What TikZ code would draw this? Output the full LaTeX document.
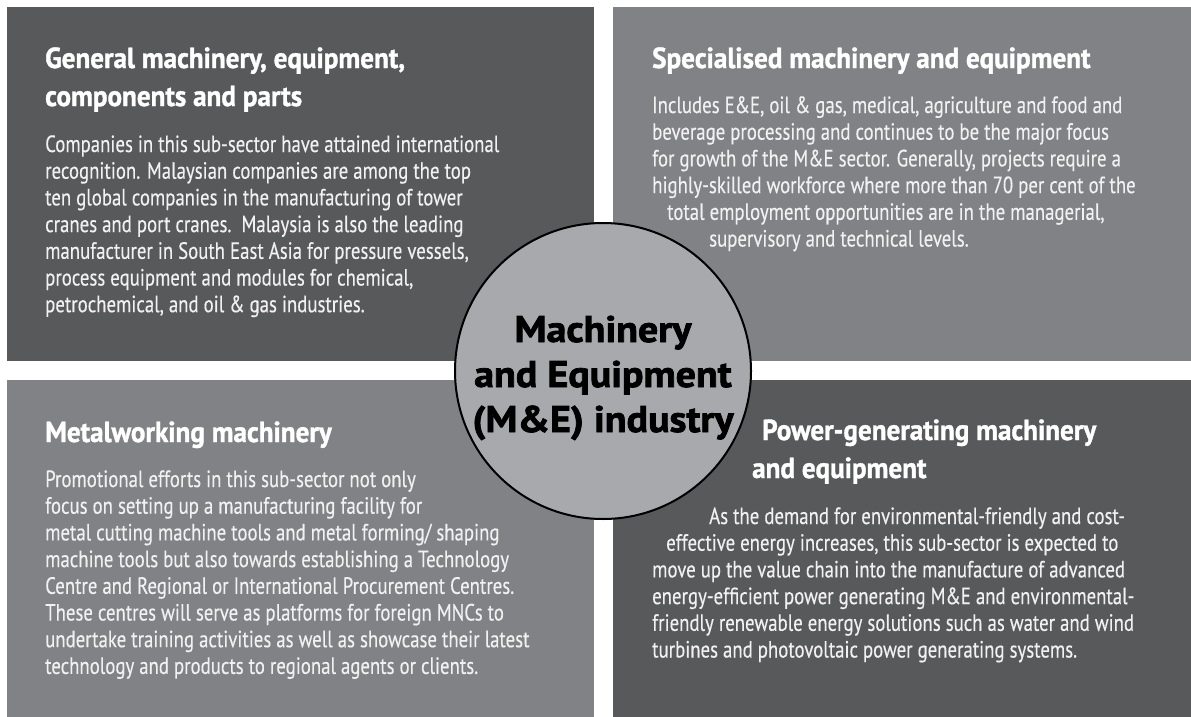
\documentclass[tikz,border=0pt]{standalone}
\usepackage{fontspec}
\newfontfamily\bodyfont[FakeStretch=0.80,FakeBold=0.3]{PT Sans}
\newfontfamily\headfont[FakeStretch=0.935,FakeBold=1.2]{PT Sans}
\newfontfamily\circfont[FakeBold=2,FakeStretch=1.08]{PT Sans}
\definecolor{darkq}{HTML}{58595B}
\definecolor{midq}{HTML}{808285}
\definecolor{circq}{HTML}{A7A9AC}
\definecolor{bodyc}{HTML}{F1F1F2}
\tikzset{
  headtxt/.style={anchor=base west, inner sep=0pt, align=left, text=white,
    font=\headfont\bfseries\fontsize{29}{38}\selectfont},
  bodytxt/.style={anchor=base west, inner sep=0pt, align=left, text=bodyc,
    font=\bodyfont\fontsize{23.5}{26.7}\selectfont},
  hub/.style={circle, draw=black, line width=2pt, fill=circq, minimum size=296pt, inner sep=0pt},
  hubtxt/.style={anchor=base, inner sep=0pt, align=center, text=black,
    font=\circfont\bfseries\fontsize{37}{45}\selectfont}
}
\begin{document}
\begin{tikzpicture}[x=1pt,y=-1pt]
\useasboundingbox (0,0) rectangle (1191,717);
\fill[white] (0,0) rectangle (1191,717);
\fill[darkq] (7,7) rectangle (594,361);
\fill[midq] (613,7) rectangle (1191,361);
\fill[midq] (7,380) rectangle (594,717);
\fill[darkq] (613,380) rectangle (1191,717);

% anchors are at the baseline of the LAST line of each node
\node[headtxt] (h1) at (45,106) {General machinery, equipment,\\components and parts};
\node[bodytxt] (b1) at (45,312.2) {Companies in this sub-sector have attained international\\
recognition. Malaysian companies are among the top\\
ten global companies in the manufacturing of tower\\
cranes and port cranes.\ \ Malaysia is also the leading\\
manufacturer in South East Asia for pressure vessels,\\
process equipment and modules for chemical,\\
petrochemical, and oil \& gas industries.};

\node[headtxt] (h2) at (652,68) {Specialised machinery and equipment};
\node[bodytxt] (b2) at (652,246.5) {Includes E\&E, oil \& gas, medical, agriculture and food and\\
beverage processing and continues to be the major focus\\
for growth of the M\&E sector. Generally, projects require a\\
highly-skilled workforce where more than 70 per cent of the\\
\hspace*{15pt}total employment opportunities are in the managerial,\\
\hspace*{57pt}supervisory and technical levels.};

\node[headtxt] (h3) at (45,442) {Metalworking machinery};
\node[bodytxt] (b3) at (45,673.9) {Promotional efforts in this sub-sector not only\\
focus on setting up a manufacturing facility for\\
metal cutting machine tools and metal forming/ shaping\\
machine tools but also towards establishing a Technology\\
Centre and Regional or International Procurement Centres.\\
These centres will serve as platforms for foreign MNCs to\\
undertake training activities as well as showcase their latest\\
technology and products to regional agents or clients.};

\node[headtxt] (h4) at (752,478) {\hspace*{10pt}Power-generating machinery\\and equipment};
\node[bodytxt] (b4) at (652,657.5) {\hspace*{57pt}As the demand for environmental-friendly and cost-\\
\hspace*{14pt}effective energy increases, this sub-sector is expected to\\
move up the value chain into the manufacture of advanced\\
energy-efficient power generating M\&E and environmental-\\
friendly renewable energy solutions such as water and wind\\
turbines and photovoltaic power generating systems.};

\node[hub] (c) at (603,371) {};
\node[hubtxt] (ct) at (603,432) {Machinery\\and Equipment\\(M\&E) industry};
\end{tikzpicture}
\end{document}
